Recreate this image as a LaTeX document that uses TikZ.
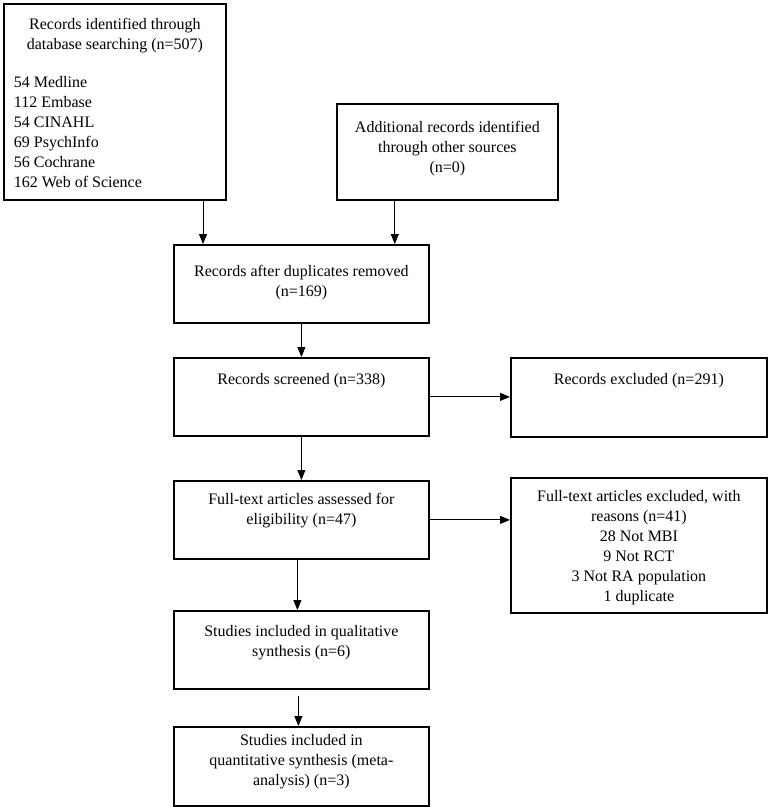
\documentclass[tikz,border=0pt]{standalone}
\usepackage{fontspec}
\setmainfont{Liberation Serif}
\usetikzlibrary{arrows.meta}

\newcommand{\flowtext}[4]{\parbox[c][#2pt][t]{#1pt}{\vspace*{#3pt}\centering #4}}

\begin{document}
\begin{tikzpicture}[x=1pt, y=1pt,
  box/.style={draw, line width=1.8pt, anchor=north west, inner sep=0pt, font=\fontsize{16}{20}\selectfont},
  arr/.style={-{Triangle[length=10pt,width=8pt]}, line width=0.9pt}]
\useasboundingbox (0,0) rectangle (768,-807);
\node[box] (ident) at (3,-3){\flowtext{222}{196}{14.5}{Records identified through\\ database searching (n=507)\par
  \vspace{18pt}\raggedright\leftskip=10pt
  54 Medline\\ 112 Embase\\ 54 CINAHL\\ 69 PsychInfo\\ 56 Cochrane\\ 162 Web of Science}};
\node[box] (addit) at (336,-103){\flowtext{221}{96}{17}{Additional records identified\\ through other sources\\ (n=0)}};
\node[box] (dupl) at (173,-244){\flowtext{255}{78}{20.5}{Records after duplicates removed\\ (n=169)}};
\node[box] (screen) at (173,-357){\flowtext{255}{78}{15}{Records screened (n=338)}};
\node[box] (excl) at (510,-357){\flowtext{256}{79}{15}{Records excluded (n=291)}};
\node[box] (full) at (173,-480){\flowtext{255}{78}{12}{Full-text articles assessed for\\ eligibility (n=47)}};
\node[box] (fullex) at (510,-477){\flowtext{256}{135}{12.5}{Full-text articles excluded, with\\ reasons (n=41)\\ 28 Not MBI\\ 9 Not RCT\\ 3 Not RA population\\ 1 duplicate}};
\node[box] (qual) at (173,-610){\flowtext{255}{78}{14.5}{Studies included in qualitative\\ synthesis (n=6)}};
\node[box] (quant) at (173,-726){\flowtext{255}{79}{7}{Studies included in\\ quantitative synthesis (meta-\\ analysis) (n=3)}};

\draw[arr] ([xshift=30pt]dupl.north west |- ident.south) -- ([xshift=30pt]dupl.north west);
\draw[arr] ([xshift=-35pt]dupl.north east |- addit.south) -- ([xshift=-35pt]dupl.north east);
\draw[arr] (dupl.south) -- (screen.north);
\draw[arr] (screen.south) -- (full.north);
\draw[arr] ([xshift=-4pt]full.south) -- ([xshift=-4pt]qual.north);
\draw[arr] ([xshift=-3pt,yshift=-6pt]qual.south) -- ([xshift=-3pt]quant.north);
\draw[arr] (screen.east) -- (screen.east -| excl.west);
\draw[arr] (full.east) -- (full.east -| fullex.west);
\end{tikzpicture}
\end{document}
